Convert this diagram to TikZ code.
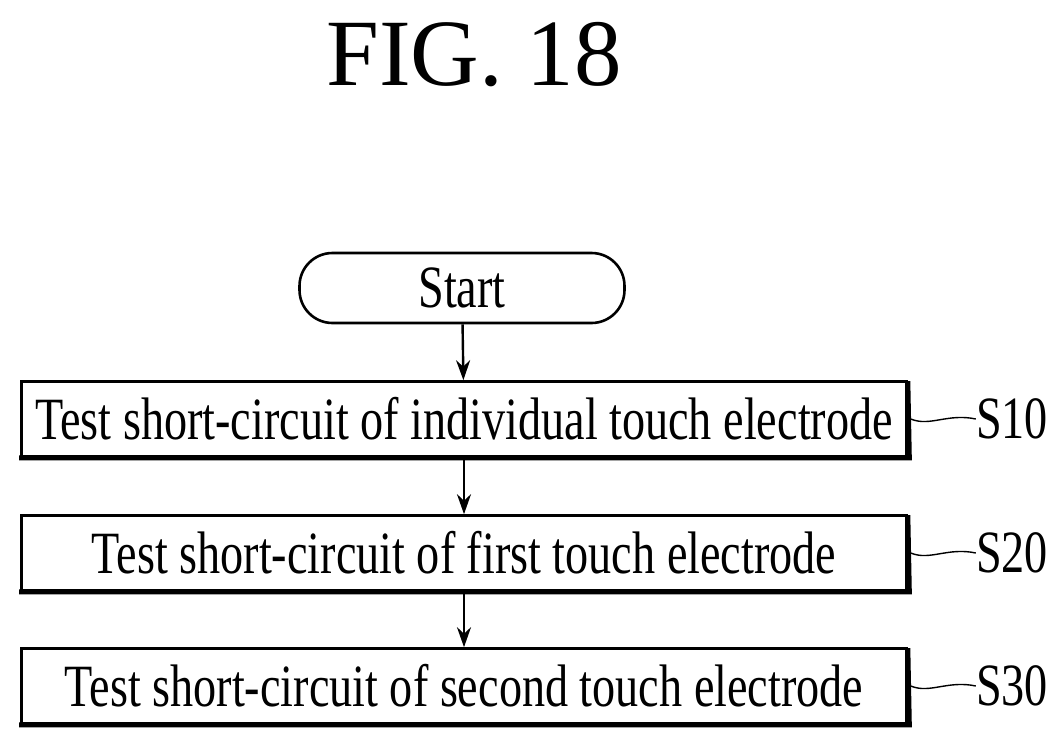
\documentclass[tikz,border=0pt]{standalone}
\usepackage{fontspec}
\setmainfont{Liberation Serif}
\usetikzlibrary{arrows.meta}
\begin{document}
\begin{tikzpicture}[x=1pt,y=-1pt,
  stepbox/.style={draw,line width=2.6pt,minimum width=885pt,minimum height=75pt,inner sep=0pt},
  arr/.style={line width=2.4pt,-{Stealth[length=20pt,width=14pt]}},
  tag/.style={font=\fontsize{60}{60}\selectfont,anchor=west,inner sep=0pt}]
\useasboundingbox (0,0) rectangle (1063,744);
\node[font=\fontsize{95}{95}\selectfont] (title) at (474,55) {FIG. 18};
\node[draw,line width=2.6pt,rounded corners=33pt,minimum width=325pt,minimum height=70pt] (st) at (462,288) {\scalebox{0.77}[1]{\fontsize{60}{60}\selectfont Start}};
\node[stepbox] (s1) at (464,419) {\scalebox{0.77}[1]{\fontsize{60}{60}\selectfont Test short-circuit of individual touch electrode}};
\node[stepbox] (s2) at (464,553) {\scalebox{0.77}[1]{\fontsize{60}{60}\selectfont Test short-circuit of first touch electrode}};
\node[stepbox] (s3) at (464,686) {\scalebox{0.77}[1]{\fontsize{60}{60}\selectfont Test short-circuit of second touch electrode}};
\foreach \n in {s1,s2,s3}{
  \draw[line width=5pt] ([xshift=-1pt]\n.south west) -- ([xshift=1.5pt]\n.south east) -- ([yshift=-1pt]\n.north east);
}
\draw[arr] (st) -- (s1);
\draw[arr] (s1) -- (s2);
\draw[arr] (s2) -- (s3);
\foreach \n/\l in {s1/S10,s2/S20,s3/S30}{
  \node[tag] (t\n) at ([xshift=68pt]\n.east) {\scalebox{0.77}[1]{\l}};
  \draw[line width=1.4pt] ([xshift=3pt]\n.east) .. controls ([xshift=22pt,yshift=-8pt]\n.east) and ([xshift=40pt,yshift=6pt]\n.east) .. (t\n.west);
}
\end{tikzpicture}
\end{document}
